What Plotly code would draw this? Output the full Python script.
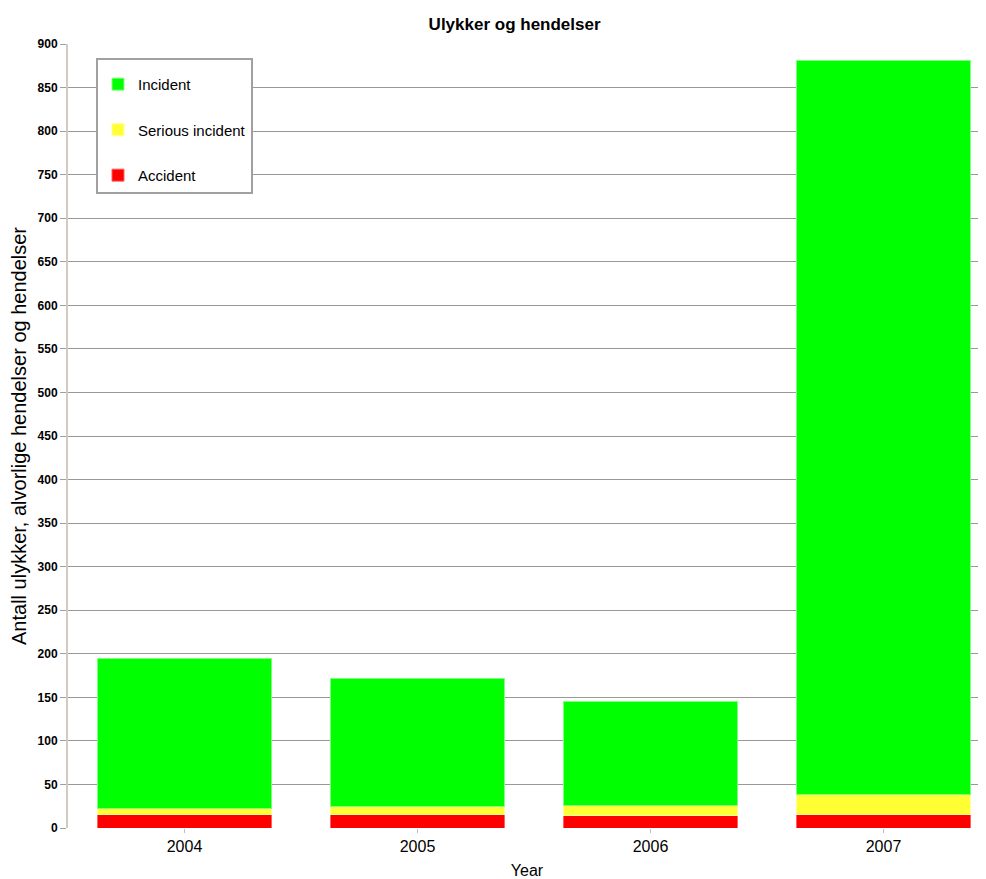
import plotly.graph_objects as go

years = ["2004", "2005", "2006", "2007"]
accident = [16, 15, 14, 16]
serious_incident = [6, 10, 12, 23]
incident = [173, 147, 119, 842]
y_ticks = list(range(0, 901, 50))

fig = go.Figure()
series = [
    ("Accident", accident, "#ff0000", "#ff6060", 3),
    ("Serious incident", serious_incident, "#ffff33", "#ffff99", 2),
    ("Incident", incident, "#00ff00", "#80ff80", 1),
]
for name, vals, col, edge, rank in series:
    fig.add_trace(go.Bar(
        x=years, y=vals, name=name, legendgroup=name, legendrank=rank,
        marker=dict(color=col, line=dict(color=edge, width=1)),
        width=0.75,
    ))

fig.update_layout(
    barmode="stack",
    width=978, height=871,
    margin=dict(l=60, r=0, t=36, b=51),
    paper_bgcolor="white", plot_bgcolor="white",
    title=dict(text="Ulykker og hendelser", x=0.518, xanchor="center",
               y=0.981, yanchor="middle",
               font=dict(family="Liberation Sans, Arial", size=17,
                         color="black", weight="bold")),
    font=dict(family="Liberation Sans, Arial", color="black"),
    legend=dict(
        x=0.0305, y=0.982, xanchor="left", yanchor="top",
        traceorder="grouped", tracegroupgap=23,
        bordercolor="#a0a0a0", borderwidth=2, bgcolor="white",
        font=dict(family="Liberation Sans, Arial", size=15, color="black"),
        title=dict(text="&nbsp;", font=dict(size=6)),
    ),
    bargap=0.25,
)
fig.update_xaxes(
    range=[-0.5, 3.44],
    tickfont=dict(family="Liberation Sans, Arial", size=16, color="black"),
    ticks="outside", ticklen=4, tickcolor="#c0c0c0",
    showline=False, showgrid=False,
    title=dict(text="Year", font=dict(family="Liberation Sans, Arial", size=16, color="black"), standoff=11),
)
fig.update_yaxes(
    range=[0, 900], tickvals=y_ticks,
    tickfont=dict(family="Liberation Sans, Arial", size=12, color="black", weight="bold"),
    showgrid=True, gridcolor="#999999", gridwidth=1,
    showline=True, linecolor="#d0ccc4", linewidth=2,
    ticks="outside", ticklen=6, tickcolor="#a0a0a0",
    zeroline=False,
    title=dict(text="Antall ulykker, alvorlige hendelser og hendelser",
               font=dict(family="Liberation Sans, Arial", size=20, color="black"), standoff=7),
)
fig.write_html("out.html")
